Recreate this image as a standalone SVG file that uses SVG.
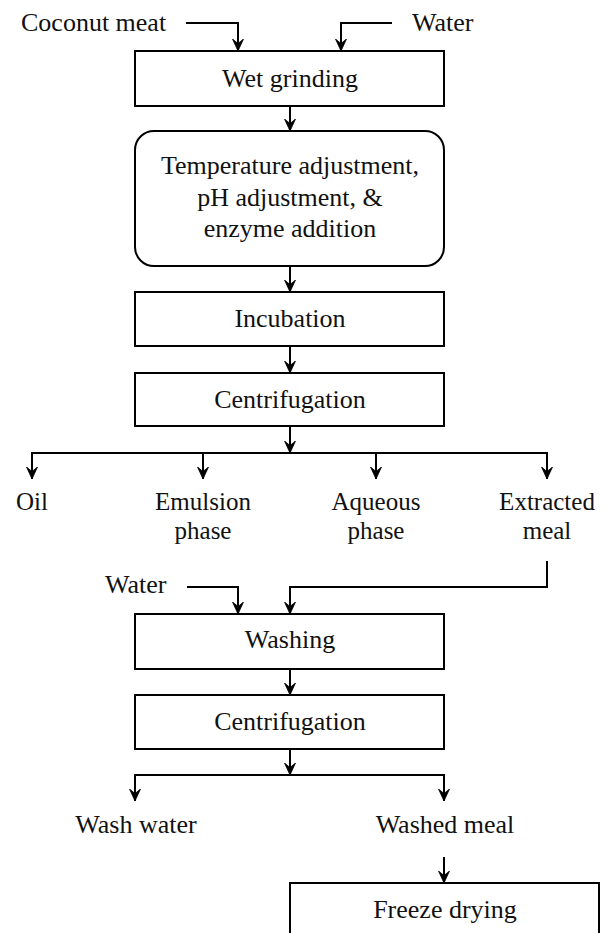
<svg xmlns="http://www.w3.org/2000/svg" width="610" height="933" viewBox="0 0 610 933">
  <defs>
    <marker id="arr" viewBox="0 0 13 12" markerWidth="13" markerHeight="12" refX="12.5" refY="6" orient="auto-start-reverse" markerUnits="userSpaceOnUse">
      <path d="M0.5,0.5 L12.5,6 L0.5,11.5 L5,6 Z" fill="#000" stroke="#000" stroke-width="0.8" stroke-linejoin="round"/>
    </marker>
    <style>
      .box { fill: #fff; stroke: #000; stroke-width: 2; }
      .t { font-family: "Liberation Serif", "Times New Roman", serif; font-size: 26px; fill: #111; text-anchor: middle; }
      .tl { font-family: "Liberation Serif", "Times New Roman", serif; font-size: 26px; fill: #111; }
      .s { font-size: 25px; }
      .c { fill: none; stroke: #000; stroke-width: 2; }
      .a { marker-end: url(#arr); }
      .aa { marker-start: url(#arr); marker-end: url(#arr); }
    </style>
  </defs>
  <rect width="610" height="933" fill="#fff"/>

  <g id="connectors">
    <path class="c a" d="M186,23 H238 V51"/>
    <path class="c a" d="M392,23 H341 V51"/>
    <path class="c a" d="M290,106 V131"/>
    <path class="c a" d="M290,266 V292"/>
    <path class="c a" d="M290,346 V373"/>
    <path class="c a" d="M290,426 V453"/>
    <path class="c aa" d="M32,479 V453 H547 V479"/>
    <path class="c a" d="M203,453 V479"/>
    <path class="c a" d="M376,453 V479"/>
    <path class="c a" d="M547,561 V587 H290 V614"/>
    <path class="c a" d="M187,587 H238 V614"/>
    <path class="c a" d="M290,669 V695"/>
    <path class="c a" d="M290,749 V775"/>
    <path class="c aa" d="M135,801 V775 H444 V801"/>
    <path class="c a" d="M444,857 V883"/>
  </g>

  <g id="coconut-meat"><text class="tl" x="21" y="31">Coconut meat</text></g>
  <g id="water-1"><text class="tl" x="412" y="31">Water</text></g>

  <g id="wet-grinding">
    <rect class="box" x="135" y="51" width="309" height="55"/>
    <text class="t" x="290" y="87">Wet grinding</text>
  </g>

  <g id="adjustment">
    <rect class="box" x="135" y="131" width="309" height="135" rx="19" ry="19"/>
    <text class="t" x="290" y="174">Temperature adjustment,</text>
    <text class="t" x="290" y="206">pH adjustment, &amp;</text>
    <text class="t" x="290" y="237">enzyme addition</text>
  </g>

  <g id="incubation">
    <rect class="box" x="135" y="292" width="309" height="54"/>
    <text class="t" x="290" y="327">Incubation</text>
  </g>

  <g id="centrifugation-1">
    <rect class="box" x="135" y="373" width="309" height="53"/>
    <text class="t" x="290" y="408">Centrifugation</text>
  </g>

  <g id="oil"><text class="t s" x="32" y="510">Oil</text></g>
  <g id="emulsion-phase">
    <text class="t s" x="203" y="510">Emulsion</text>
    <text class="t s" x="203" y="539">phase</text>
  </g>
  <g id="aqueous-phase">
    <text class="t s" x="376" y="510">Aqueous</text>
    <text class="t s" x="376" y="539">phase</text>
  </g>
  <g id="extracted-meal">
    <text class="t s" x="547" y="510">Extracted</text>
    <text class="t s" x="547" y="539">meal</text>
  </g>

  <g id="water-2"><text class="tl" x="105" y="593">Water</text></g>

  <g id="washing">
    <rect class="box" x="135" y="614" width="309" height="55"/>
    <text class="t" x="290" y="648">Washing</text>
  </g>

  <g id="centrifugation-2">
    <rect class="box" x="135" y="695" width="309" height="54"/>
    <text class="t" x="290" y="730">Centrifugation</text>
  </g>

  <g id="wash-water"><text class="t" x="136" y="833">Wash water</text></g>
  <g id="washed-meal"><text class="t" x="445" y="833">Washed meal</text></g>

  <g id="freeze-drying">
    <rect class="box" x="290" y="883" width="309" height="56"/>
    <text class="t" x="445" y="918">Freeze drying</text>
  </g>
</svg>
